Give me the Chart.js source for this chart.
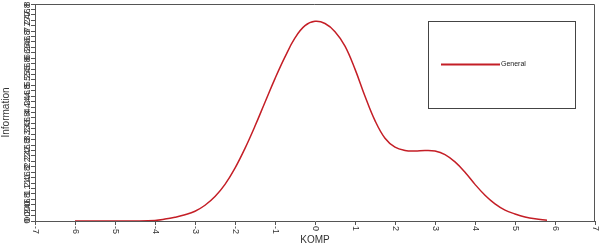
<!DOCTYPE html>
<html>
<head>
<meta charset="utf-8">
<script src="https://cdn.jsdelivr.net/npm/chart.js@4.4.1/dist/chart.umd.min.js"></script>
<style>
  html, body { margin: 0; padding: 0; background: #fff; }
  #wrap { width: 600px; height: 246px; }
</style>
</head>
<body>
<div id="wrap"><canvas id="infoChart" width="600" height="246"></canvas></div>
<script>
// Information curve (KOMP scale)
const kompValues = [-6, -5.5, -5, -4.5, -4, -3.75, -3.5, -3.25, -3, -2.75, -2.5, -2.25, -2, -1.75, -1.5, -1.25, -1, -0.75, -0.5, -0.25, 0, 0.25, 0.5, 0.75, 1, 1.25, 1.5, 1.75, 2, 2.25, 2.5, 2.75, 3, 3.25, 3.5, 3.75, 4, 4.25, 4.5, 4.75, 5, 5.25, 5.5, 5.8];
const infoValues = [0, 0, 0, 0, 0.02, 0.07, 0.14, 0.23, 0.36, 0.58, 0.9, 1.35, 1.95, 2.68, 3.5, 4.38, 5.25, 6.05, 6.75, 7.2, 7.36, 7.28, 6.98, 6.45, 5.6, 4.6, 3.7, 3.05, 2.72, 2.6, 2.58, 2.6, 2.58, 2.45, 2.18, 1.8, 1.35, 0.95, 0.63, 0.4, 0.26, 0.15, 0.08, 0.03];
const seriesName = 'General';

const xTickLabels = ['-7', '-6', '-5', '-4', '-3', '-2', '-1', '0', '1', '2', '3', '4', '5', '6', '7'];
const yTickLabels = ['0', '0.2', '0.4', '0.6', '0.8', '1', '1.2', '1.4', '1.6', '1.8',
	'2', '2.2', '2.4', '2.6', '2.8', '3', '3.2', '3.4', '3.6', '3.8',
	'4', '4.2', '4.4', '4.6', '4.8', '5', '5.2', '5.4', '5.6', '5.8',
	'6', '6.2', '6.4', '6.6', '6.8', '7', '7.2', '7.4', '7.6', '7.8', '8'];

const lineColor = 'rgb(196, 30, 38)';
const axisColor = '#555';
const textColor = '#333';
const fontFamily = '"Liberation Sans", Arial, sans-serif';

// rotated tick labels, frame and boxed legend
const decorPlugin = {
	id: 'decor',
	afterDraw(chart) {
		const ctx = chart.ctx;
		const area = chart.chartArea;
		const xs = chart.scales.x;
		const ys = chart.scales.y;
		ctx.save();

		// frame on top / right
		ctx.strokeStyle = axisColor;
		ctx.lineWidth = 1;
		ctx.beginPath();
		ctx.moveTo(area.left, area.top + 0.5);
		ctx.lineTo(area.right - 0.5, area.top + 0.5);
		ctx.lineTo(area.right - 0.5, area.bottom);
		ctx.stroke();

		ctx.fillStyle = textColor;
		ctx.font = '9px ' + fontFamily;

		// x tick labels, turned clockwise
		xTickLabels.forEach(lbl => {
			const px = xs.getPixelForValue(parseFloat(lbl));
			ctx.save();
			ctx.translate(px, area.bottom + 5);
			ctx.rotate(Math.PI / 2);
			ctx.textAlign = 'left';
			ctx.textBaseline = 'middle';
			ctx.fillText(lbl, 0, 0);
			ctx.restore();
		});

		// y tick labels, turned anticlockwise
		ctx.font = '9px ' + fontFamily;
		yTickLabels.forEach(lbl => {
			const py = ys.getPixelForValue(parseFloat(lbl));
			ctx.save();
			ctx.translate(area.left - 7, py);
			ctx.rotate(-Math.PI / 2);
			ctx.textAlign = 'center';
			ctx.textBaseline = 'bottom';
			ctx.fillText(lbl, 0, 4);
			ctx.restore();
		});

		// legend box
		const lg = chart.options.plugins.decor;
		ctx.strokeStyle = '#444';
		ctx.strokeRect(lg.x + 0.5, lg.y + 0.5, lg.w, lg.h);
		ctx.strokeStyle = lineColor;
		ctx.lineWidth = 2;
		ctx.beginPath();
		ctx.moveTo(lg.x + 13, lg.y + lg.h / 2);
		ctx.lineTo(lg.x + 72, lg.y + lg.h / 2);
		ctx.stroke();
		ctx.fillStyle = '#222';
		ctx.font = '7px ' + fontFamily;
		ctx.textAlign = 'left';
		ctx.textBaseline = 'middle';
		ctx.fillText(seriesName, lg.x + 73, lg.y + lg.h / 2);
		ctx.restore();
	}
};

new Chart(document.getElementById('infoChart'), {
	type: 'line',
	data: {
		datasets: [{
			label: seriesName,
			data: kompValues.map((k, i) => ({ x: k, y: infoValues[i] })),
			borderColor: lineColor,
			borderWidth: 1.5,
			pointRadius: 0,
			fill: false,
			tension: 0.4
		}]
	},
	options: {
		responsive: false,
		animation: false,
		layout: { padding: { top: 4, right: 5, left: 0, bottom: 0 } },
		plugins: {
			legend: { display: false },
			tooltip: { enabled: false },
			decor: { x: 428, y: 21, w: 147, h: 87 }
		},
		scales: {
			x: {
				type: 'linear',
				min: -7,
				max: 7,
				ticks: { display: false, stepSize: 1 },
				grid: { drawOnChartArea: false, drawTicks: true, tickLength: 4, color: axisColor },
				border: { color: axisColor },
				title: {
					display: true,
					text: 'KOMP',
					color: textColor,
					font: { family: fontFamily, size: 10 },
					padding: { top: 0, bottom: 0 }
				},
				afterFit(scale) { scale.height = 25; }
			},
			y: {
				min: 0,
				max: 8,
				ticks: { display: false, stepSize: 0.2 },
				grid: { drawOnChartArea: false, drawTicks: true, tickLength: 4, color: axisColor },
				border: { color: axisColor },
				title: {
					display: true,
					text: 'Information',
					color: textColor,
					font: { family: fontFamily, size: 10 },
					padding: { top: 0, bottom: 0 }
				},
				afterFit(scale) { scale.width = 35; }
			}
		}
	},
	plugins: [decorPlugin]
});
</script>
</body>
</html>
